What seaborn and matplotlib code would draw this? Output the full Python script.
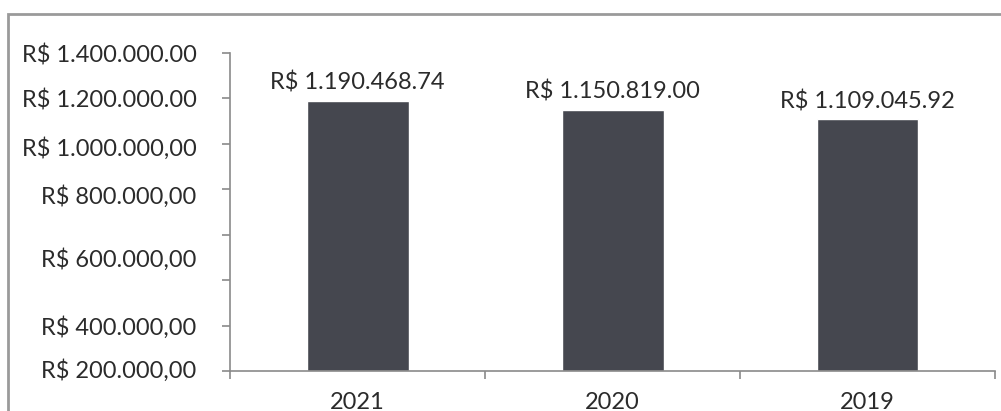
import matplotlib
matplotlib.use("Agg")
import numpy as np
import pandas as pd
import seaborn as sns
from matplotlib import pyplot as plt
from matplotlib.patches import Rectangle

years = ['2021', '2020', '2019']
values = [1190468.74, 1150819.00, 1109045.92]
value_labels = ['R$ 1.190.468.74', 'R$ 1.150.819.00', 'R$ 1.109.045.92']
y_tick_labels = ['R$ 1.400.000.00', 'R$ 1.200.000.00', 'R$ 1.000.000,00', 'R$ 800.000,00',
                 'R$ 600.000,00', 'R$ 400.000,00', 'R$ 200.000,00']
# where the scanned labels actually sit (they drift away from the tick marks)
y_label_spots = [1400000, 1198000, 990000, 776000, 499000, 200000, 9000]

sns.set_style('white')
plt.rcParams['font.family'] = ['Lato', 'DejaVu Sans']

df = pd.DataFrame({'year': years, 'value': values})

fig = plt.figure(figsize=(10.01, 4.11), dpi=100)
ax = fig.add_axes([0.2298, 0.0973, 0.994 - 0.2298, 0.871 - 0.0973])
sns.barplot(data=df, x='year', y='value', color='#45474f', saturation=1, width=0.4, ax=ax)

ax.set_xlim(-0.5, 2.5)
ax.set_ylim(0, 1400000)
ax.set_xlabel('')
ax.set_ylabel('')
ax.yaxis.remove_overlapping_locs = False
ax.xaxis.remove_overlapping_locs = False

# major ticks: plain marks, no text
ax.set_yticks(np.arange(0, 1400001, 200000))
ax.set_yticklabels([])
ax.set_xticks([-0.5, 0.5, 1.5, 2.5])
ax.set_xticklabels([])
ax.tick_params(axis='both', which='major', direction='out', length=6, width=1.2, color='#8a8a8a')
ax.tick_params(axis='y', which='major', left=True)
ax.tick_params(axis='x', which='major', bottom=True)

# minor ticks carry the text
ax.set_yticks(y_label_spots, minor=True)
ax.set_yticklabels(y_tick_labels, minor=True)
ax.set_xticks(range(len(years)), minor=True)
ax.set_xticklabels(years, minor=True)
ax.tick_params(axis='y', which='minor', length=0, pad=24, labelsize=17, labelcolor='#2b2b2b')
ax.tick_params(axis='x', which='minor', length=0, pad=15, labelsize=17, labelcolor='#2b2b2b')

for side in ['top', 'right']:
    ax.spines[side].set_visible(False)
for side in ['left', 'bottom']:
    ax.spines[side].set_color('#8a8a8a')
    ax.spines[side].set_linewidth(1.2)

for i, (v, lab) in enumerate(zip(values, value_labels)):
    ax.annotate(lab, xy=(i, v), xytext=(0, 13), textcoords='offset points',
                ha='center', va='center', fontsize=17, color='#2b2b2b')

# outer chart frame, cut off on the right and bottom like the scan
fig.patches.append(Rectangle((8 / 1001, -0.1), 1.2, 1 - 14 / 411 + 0.1, transform=fig.transFigure,
                             fill=False, edgecolor='#9a9a9a', linewidth=2))

fig.savefig('out.png', dpi=100, facecolor='white')
